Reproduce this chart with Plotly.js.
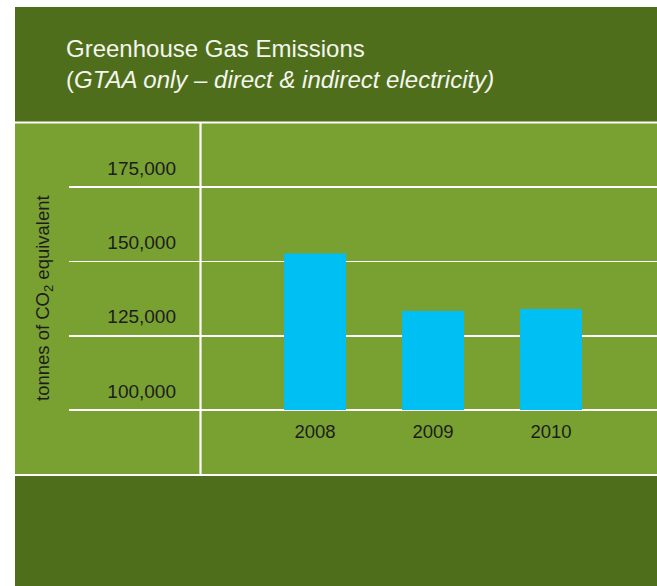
<!DOCTYPE html>
<html>
<head>
<meta charset="utf-8">
<script src="https://cdn.plot.ly/plotly-3.0.1.min.js"></script>
<style>html,body{margin:0;padding:0;background:#fff;}#chart{width:657px;height:586px;}</style>
</head>
<body>
<div id="chart"></div>
<script>
// ---- data ----
const years = ['2008', '2009', '2010'];
const emissions = [152700, 133300, 134000];   // tonnes of CO2 equivalent
const yTickValues = [100000, 125000, 150000, 175000];
const yTickLabels = ['100,000', '125,000', '150,000', '175,000'];
const chartTitle = 'Greenhouse Gas Emissions';
const chartSubtitle = '(<i>GTAA only – direct &amp; indirect electricity)</i>';
const yAxisTitle = 'tonnes of CO<sub>2</sub> equivalent';
const baseValue = 100000;

// ---- styling / geometry ----
const W = 657, H = 586;
const L = 69, R = 0, T = 124, B = 173;
const plotW = W - L - R, plotH = H - T - B;
const px2x = p => (p - L) / plotW;
const py2y = p => (H - B - p) / plotH;
const pxPerUnit = 74.25 / 25000;

const darkGreen = '#4f6e1c';
const lightGreen = '#79a131';
const white = '#ffffff';
const font = 'Liberation Sans, Arial, Helvetica, sans-serif';

function rect(x0, y0, x1, y1, color) {
  return {type: 'rect', xref: 'paper', yref: 'paper', layer: 'below',
    x0: px2x(x0), x1: px2x(x1), y0: py2y(y0), y1: py2y(y1),
    fillcolor: color, line: {width: 0}};
}
function line(x0, y0, x1, y1, w) {
  return {type: 'line', xref: 'paper', yref: 'paper', layer: 'below',
    x0: px2x(x0), x1: px2x(x1), y0: py2y(y0), y1: py2y(y1),
    line: {color: white, width: w}};
}

const trace = {
  type: 'bar',
  x: years,
  y: emissions.map(v => v - baseValue),
  base: baseValue,
  marker: {color: '#00bff3', line: {width: 0}},
  width: 0.525,
  hoverinfo: 'x+text',
  text: emissions.map(v => v.toLocaleString('en-US')),
  textposition: 'none'
};

const layout = {
  width: W, height: H,
  margin: {l: L, r: R, t: T, b: B, pad: 0},
  paper_bgcolor: white,
  plot_bgcolor: 'rgba(0,0,0,0)',
  showlegend: false,
  title: {
    text: chartTitle + '<br>' + chartSubtitle,
    font: {family: font, size: 24, color: '#f4f6ee'},
    xref: 'container', yref: 'container',
    x: 66 / W, xanchor: 'left',
    y: 1 - 57 / H, yanchor: 'top'
  },
  xaxis: {
    type: 'category',
    range: [-2.085, 2.898],
    showgrid: false, zeroline: false, showline: false,
    ticks: '',
    tickfont: {family: font, size: 18.5, color: '#1c1c1c'},
    ticklabelstandoff: 5
  },
  yaxis: {
    range: [baseValue - 3 / pxPerUnit, baseValue + (410 - 124) / pxPerUnit],
    tickvals: yTickValues,
    ticktext: yTickLabels,
    showgrid: true, gridcolor: white, gridwidth: 1.6,
    zeroline: false, showline: false, ticks: '',
    anchor: 'free', position: px2x(176),
    ticklabelshift: -19,
    tickfont: {family: font, size: 19, color: '#1c1c1c'}
  },
  annotations: [{
    text: yAxisTitle,
    xref: 'paper', yref: 'paper',
    x: px2x(44), y: py2y(298),
    xanchor: 'center', yanchor: 'middle',
    textangle: -90, showarrow: false,
    font: {family: font, size: 18.5, color: '#1c1c1c'}
  }],
  shapes: [
    rect(15, 7, 657, 586, darkGreen),
    rect(15, 123, 657, 475, lightGreen),
    line(15, 122.5, 657, 122.5, 2),
    line(15, 475, 657, 475, 2),
    line(200.5, 123, 200.5, 475, 2.2)
  ]
};

Plotly.newPlot('chart', [trace], layout, {displayModeBar: false, staticPlot: true});
</script>
</body>
</html>
